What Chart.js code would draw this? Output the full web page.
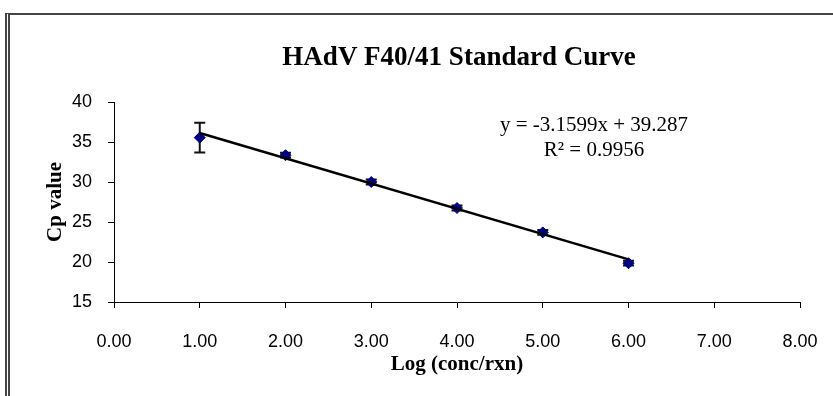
<!DOCTYPE html>
<html>
<head>
<meta charset="utf-8">
<script src="https://cdn.jsdelivr.net/npm/chart.js@4"></script>
<style>
  html, body { margin: 0; padding: 0; background: #fff; }
  #wrap { position: relative; width: 833px; height: 396px; }
  #frame {
    position: absolute; left: 5px; top: 13px; right: 0; bottom: 0;
    border-top: 2px solid #444; border-left: 5px double #444;
  }
  canvas { position: absolute; left: 0; top: 0; }
</style>
</head>
<body>
<div id="wrap">
  <div id="frame"></div>
  <canvas id="curveChart" width="833" height="396"></canvas>
</div>
<script>
const chartTitle = 'HAdV F40/41 Standard Curve';
const logConc = [1, 2, 3, 4, 5, 6];
const cpMean = [35.55, 33.35, 30.0, 26.75, 23.7, 19.85];
const cpErr = [1.85, 0.3, 0.3, 0.3, 0.3, 0.3];
const slope = -3.1599;
const intercept = 39.287;
const rSquared = 0.9956;

const points = logConc.map((x, i) => ({ x: x, y: cpMean[i] }));
const xFirst = logConc[0];
const xLast = logConc[logConc.length - 1];
const trend = [
  { x: xFirst, y: slope * xFirst + intercept },
  { x: xLast, y: slope * xLast + intercept }
];

const errorBars = {
  id: 'errorBars',
  beforeDatasetsDraw(chart) {
    const ctx = chart.ctx;
    const xs = chart.scales.x, ys = chart.scales.y;
    ctx.save();
    ctx.strokeStyle = '#111';
    ctx.lineWidth = 2;
    logConc.forEach((x, i) => {
      const px = xs.getPixelForValue(x);
      const top = ys.getPixelForValue(cpMean[i] + cpErr[i]);
      const bot = ys.getPixelForValue(cpMean[i] - cpErr[i]);
      ctx.beginPath();
      ctx.moveTo(px, top); ctx.lineTo(px, bot);
      ctx.moveTo(px - 5.5, top); ctx.lineTo(px + 5.5, top);
      ctx.moveTo(px - 5.5, bot); ctx.lineTo(px + 5.5, bot);
      ctx.stroke();
    });
    ctx.restore();
  }
};

// title centred over the plot area, plus the trendline equation
const textLabels = {
  id: 'textLabels',
  afterDraw(chart) {
    const ctx = chart.ctx;
    const area = chart.chartArea;
    ctx.save();
    ctx.fillStyle = '#000';
    ctx.textAlign = 'center';
    ctx.textBaseline = 'alphabetic';
    ctx.font = 'bold 27px "Liberation Serif", serif';
    ctx.fillText(chartTitle, (area.left + area.right) / 2 + 2, 65);

    ctx.textBaseline = 'middle';
    ctx.font = '21px "Liberation Serif", serif';
    const sign = intercept >= 0 ? ' + ' : ' - ';
    ctx.fillText('y = ' + slope + 'x' + sign + Math.abs(intercept), 594, 125);
    ctx.fillText('R² = ' + rSquared, 594, 150);
    ctx.restore();
  }
};

new Chart(document.getElementById('curveChart').getContext('2d'), {
  type: 'scatter',
  data: {
    datasets: [
      {
        label: 'Trend',
        type: 'line',
        data: trend,
        borderColor: '#000',
        borderWidth: 2.5,
        pointRadius: 0,
        fill: false,
        order: 0
      },
      {
        label: 'Cp',
        data: points,
        pointStyle: 'rectRot',
        pointRadius: 5.5,
        backgroundColor: '#000080',
        borderColor: '#000080',
        borderWidth: 1,
        order: 1
      }
    ]
  },
  options: {
    responsive: false,
    animation: false,
    layout: { padding: { left: 0, right: 33, top: 102, bottom: 0 } },
    plugins: {
      legend: { display: false },
      tooltip: { enabled: false },
      title: { display: false }
    },
    scales: {
      x: {
        type: 'linear',
        min: 0,
        max: 8,
        afterFit: s => { s.height = 94; s.paddingRight = 18; s.paddingLeft = 0; },
        ticks: {
          stepSize: 1,
          color: '#000',
          padding: 23,
          font: { family: '"Liberation Sans", sans-serif', size: 18 },
          callback: v => v.toFixed(2)
        },
        grid: { drawOnChartArea: false, drawTicks: true, tickLength: 6, color: '#000' },
        border: { display: true, color: '#000', width: 1 },
        title: {
          display: true,
          text: 'Log (conc/rxn)',
          color: '#000',
          font: { family: '"Liberation Serif", serif', size: 21, weight: 'bold' },
          padding: { top: 0, bottom: 19 }
        }
      },
      y: {
        min: 15,
        max: 40,
        afterFit: s => { s.width = 114; },
        ticks: {
          stepSize: 5,
          color: '#000',
          padding: 16,
          font: { family: '"Liberation Sans", sans-serif', size: 18 }
        },
        grid: { drawOnChartArea: false, drawTicks: true, tickLength: 6, color: '#000' },
        border: { display: true, color: '#000', width: 1 },
        title: {
          display: true,
          text: 'Cp value',
          color: '#000',
          font: { family: '"Liberation Serif", serif', size: 21, weight: 'bold' },
          padding: { top: 43, bottom: 0 }
        }
      }
    }
  },
  plugins: [errorBars, textLabels]
});
</script>
</body>
</html>
